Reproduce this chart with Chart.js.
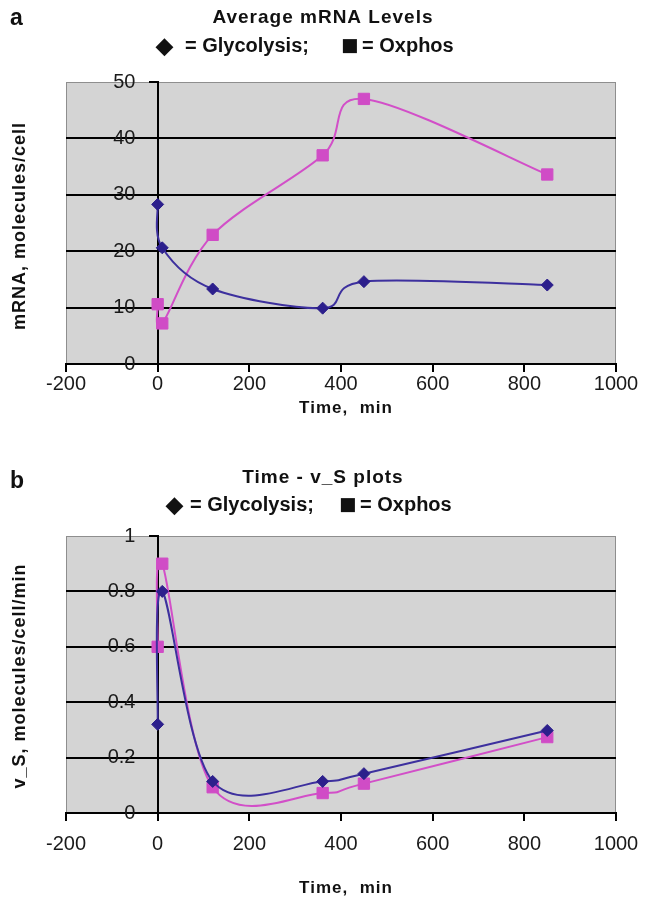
<!DOCTYPE html>
<html>
<head>
<meta charset="utf-8">
<script src="https://cdn.jsdelivr.net/npm/chart.js@4/dist/chart.umd.min.js"></script>
<style>
  html, body { margin: 0; padding: 0; background: #ffffff; }
  .panel { position: absolute; left: 0; width: 651px; height: 451px; }
  #panelA { top: 0; }
  #panelB { top: 451px; }
</style>
</head>
<body>
<div class="panel" id="panelA"><canvas id="mrnaChart" width="651" height="451"></canvas></div>
<div class="panel" id="panelB"><canvas id="vsChart" width="651" height="451"></canvas></div>
<script>
// sampling times (min), shared by both panels
var times = [0, 10, 120, 360, 450, 850];

// panel a: average mRNA levels, molecules/cell
var mrnaGlycolysis = [28.3, 20.6, 13.3, 9.9, 14.6, 14.0];
var mrnaOxphos = [10.6, 7.2, 22.9, 37.0, 47.0, 33.6];

// panel b: v_S, molecules/cell/min
var vsGlycolysis = [0.32, 0.80, 0.114, 0.114, 0.142, 0.298];
var vsOxphos = [0.60, 0.90, 0.093, 0.072, 0.106, 0.274];

var xTicks = [-200, 0, 200, 400, 600, 800, 1000];

var FONT = "'Liberation Sans', Arial, Helvetica, sans-serif";
var GLY_LINE = "#3d309e", GLY_POINT = "#2c1f8c";
var OXP_LINE = "#d24fc8", OXP_POINT = "#d04cc6";

function toPoints(xs, ys) {
    var pts = [];
    for (var i = 0; i < xs.length; i++) {
        pts.push({ x: xs[i], y: ys[i] });
    }
    return pts;
}

// spreadsheet-style smoothing: uniform Catmull-Rom, handles at 1/6 of the neighbour chord
var smoothLines = {
    id: "smoothLines",
    beforeDatasetsDraw: function (chart) {
        chart.data.datasets.forEach(function (ds, i) {
            var meta = chart.getDatasetMeta(i);
            var pts = meta.data;
            if (meta.dataset) {
                meta.dataset.updateControlPoints(chart.chartArea, "x");
            }
            for (var k = 0; k < pts.length; k++) {
                var p = pts[k];
                var prev = pts[k - 1] || p;
                var next = pts[k + 1] || p;
                var dx = (next.x - prev.x) / 6;
                var dy = (next.y - prev.y) / 6;
                p.cp1x = p.x - dx;
                p.cp1y = p.y - dy;
                p.cp2x = p.x + dx;
                p.cp2y = p.y + dy;
            }
        });
    }
};

// gray plot box behind the data, titles and axis captions on top
var panelText = {
    id: "panelText",
    beforeDraw: function (chart) {
        var ctx = chart.ctx, a = chart.chartArea;
        ctx.save();
        ctx.fillStyle = "#d4d4d4";
        ctx.fillRect(a.left, a.top, a.right - a.left, a.bottom - a.top);
        ctx.strokeStyle = "#8e8e8e";
        ctx.lineWidth = 1;
        ctx.strokeRect(a.left + 0.5, a.top + 0.5, a.right - a.left - 1, a.bottom - a.top - 1);
        ctx.restore();
    },
    afterDraw: function (chart, args, o) {
        var ctx = chart.ctx;
        ctx.save();
        ctx.fillStyle = "#111111";
        ctx.textBaseline = "middle";

        ctx.font = "bold 23px " + FONT;
        ctx.textAlign = "left";
        ctx.fillText(o.letter, o.letterX, o.letterY);

        ctx.letterSpacing = "1px";
        ctx.font = "bold 19px " + FONT;
        ctx.textAlign = "center";
        ctx.fillText(o.title, 323, o.titleY);

        // legend line: symbol glyphs a bit larger than the words
        ctx.letterSpacing = "0px";
        ctx.textAlign = "left";
        ctx.font = "bold 22px " + FONT;
        ctx.fillText("\u25C6", o.legendX[0], o.legendY + 1);
        ctx.font = "bold 29px " + FONT;
        ctx.fillText("\u25A0", o.legendX[2], o.legendY + 1);
        ctx.font = "bold 20px " + FONT;
        ctx.fillText("= Glycolysis;", o.legendX[1], o.legendY);
        ctx.fillText("= Oxphos", o.legendX[3], o.legendY);

        ctx.letterSpacing = "1px";
        ctx.font = "bold 17px " + FONT;
        ctx.textAlign = "center";
        ctx.fillText("Time,  min", 346, o.xTitleY);

        ctx.font = "bold 18px " + FONT;
        ctx.translate(20, o.yTitleY);
        ctx.rotate(-Math.PI / 2);
        ctx.fillText(o.yTitle, 0, 0);
        ctx.restore();
    }
};

function makeOptions(yMax, yStep, xHeight, bottomPad, tickPad, text) {
    return {
        responsive: false,
        animation: false,
        layout: { padding: { left: 66, right: 35, top: text.top, bottom: bottomPad } },
        plugins: {
            legend: { display: false },
            tooltip: { enabled: false },
            panelText: text
        },
        elements: {
            line: { tension: 0.4, borderWidth: 2 },
            point: { borderWidth: 1 }
        },
        scales: {
            x: {
                type: "linear",
                min: -200,
                max: 1000,
                afterFit: function (scale) { scale.height = xHeight; },
                afterBuildTicks: function (scale) {
                    scale.ticks = xTicks.map(function (v) { return { value: v }; });
                },
                border: { display: true, color: "#000000", width: 2 },
                grid: { drawOnChartArea: false, drawTicks: true, tickLength: 8, color: "#000000", lineWidth: 2 },
                ticks: {
                    padding: tickPad, color: "#1a1a1a", font: { family: FONT, size: 20 },
                    maxRotation: 0, autoSkip: false,
                    callback: function (v) { return String(v); }
                }
            },
            y: {
                type: "linear",
                position: { x: 0 },
                min: 0,
                max: yMax,
                border: { display: true, color: "#000000", width: 2 },
                grid: {
                    drawTicks: true,
                    tickLength: 8,
                    lineWidth: 2,
                    tickColor: "#000000",
                    color: function (c) { return c.tick && c.tick.value === yMax ? "rgba(0,0,0,0)" : "#000000"; }
                },
                ticks: {
                    stepSize: yStep, color: "#1a1a1a", font: { family: FONT, size: 20 },
                    // labels sit left of the x = 0 axis, clear of the tick marks
                    callback: function (v) { return String(Math.round(v * 10) / 10) + "    "; }
                }
            }
        }
    };
}

function makeDatasets(gly, oxp) {
    return [
        {
            label: "Glycolysis",
            data: toPoints(times, gly),
            showLine: true,
            borderColor: GLY_LINE,
            backgroundColor: GLY_POINT,
            pointBorderColor: GLY_POINT,
            pointStyle: "rectRot",
            pointRadius: 6
        },
        {
            label: "Oxphos",
            data: toPoints(times, oxp),
            showLine: true,
            borderColor: OXP_LINE,
            backgroundColor: OXP_POINT,
            pointBorderColor: OXP_POINT,
            pointStyle: "rect",
            pointRadius: 8
        }
    ];
}

var mrnaChart = new Chart(document.getElementById("mrnaChart").getContext("2d"), {
    type: "scatter",
    data: { datasets: makeDatasets(mrnaGlycolysis, mrnaOxphos) },
    options: makeOptions(50, 10, 60, 27, 0, {
        top: 82,
        letter: "a", letterX: 10, letterY: 19,
        title: "Average mRNA Levels", titleY: 18,
        legendX: [156, 185, 341, 362], legendY: 46,
        xTitleY: 408,
        yTitle: "mRNA, molecules/cell", yTitleY: 226
    }),
    plugins: [smoothLines, panelText]
});

var vsChart = new Chart(document.getElementById("vsChart").getContext("2d"), {
    type: "scatter",
    data: { datasets: makeDatasets(vsGlycolysis, vsOxphos) },
    options: makeOptions(1, 0.2, 80, 9, 11, {
        top: 85,
        letter: "b", letterX: 10, letterY: 31,
        title: "Time - v_S plots", titleY: 27,
        legendX: [166, 190, 339, 360], legendY: 54,
        xTitleY: 437,
        yTitle: "v_S, molecules/cell/min", yTitleY: 225
    }),
    plugins: [smoothLines, panelText]
});
</script>
</body>
</html>
